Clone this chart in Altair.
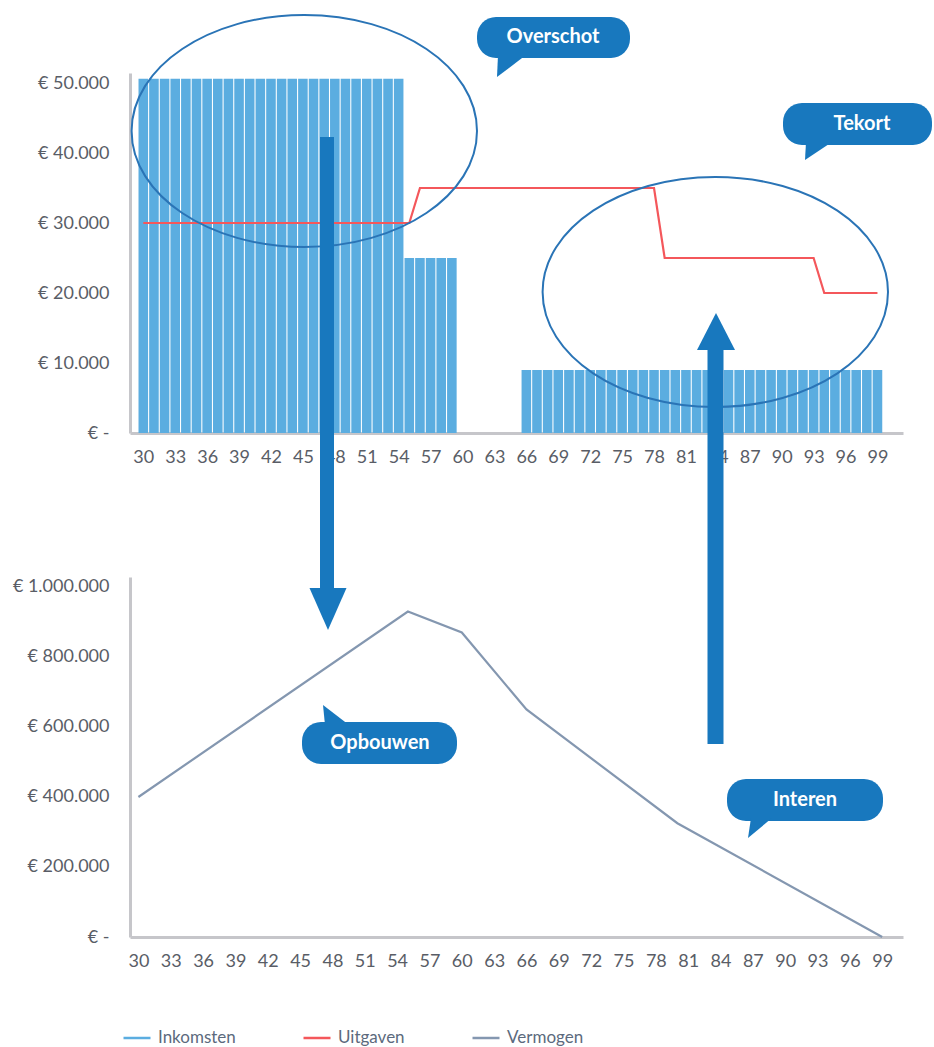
import json
import altair as alt
import pandas as pd

# ------------------------------------------------------------------ data
leeftijden = list(range(30, 100))  # leeftijd (categorie per jaar)

inkomsten = [
    50600, 50600, 50600, 50600, 50600, 50600, 50600, 50600, 50600, 50600,  # 30-39
    50600, 50600, 50600, 50600, 50600, 50600, 50600, 50600, 50600, 50600,  # 40-49
    50600, 50600, 50600, 50600, 50600, 25000, 25000, 25000, 25000, 25000,  # 50-59
    0, 0, 0, 0, 0, 0, 9000, 9000, 9000, 9000,                              # 60-69
    9000, 9000, 9000, 9000, 9000, 9000, 9000, 9000, 9000, 9000,            # 70-79
    9000, 9000, 9000, 9000, 9000, 9000, 9000, 9000, 9000, 9000,            # 80-89
    9000, 9000, 9000, 9000, 9000, 9000, 9000, 9000, 9000, 9000,            # 90-99
]

uitgaven = [
    30000, 30000, 30000, 30000, 30000, 30000, 30000, 30000, 30000, 30000,  # 30-39
    30000, 30000, 30000, 30000, 30000, 30000, 30000, 30000, 30000, 30000,  # 40-49
    30000, 30000, 30000, 30000, 30000, 30000, 35000, 35000, 35000, 35000,  # 50-59
    35000, 35000, 35000, 35000, 35000, 35000, 35000, 35000, 35000, 35000,  # 60-69
    35000, 35000, 35000, 35000, 35000, 35000, 35000, 35000, 35000, 25000,  # 70-79
    25000, 25000, 25000, 25000, 25000, 25000, 25000, 25000, 25000, 25000,  # 80-89
    25000, 25000, 25000, 25000, 20000, 20000, 20000, 20000, 20000, 20000,  # 90-99
]

vermogen_leeftijd = [30, 55, 60, 66, 80, 99]
vermogen = [400000, 930000, 870000, 650000, 325000, 0]

x_ticks = [30, 33, 36, 39, 42, 45, 48, 51, 54, 57, 60, 63, 66, 69, 72, 75, 78, 81, 84, 87, 90, 93, 96, 99]
ytop_ticks = [0, 10000, 20000, 30000, 40000, 50000]
ytop_labels = ["€ -", "€ 10.000", "€ 20.000", "€ 30.000", "€ 40.000", "€ 50.000"]
ybot_ticks = [0, 200000, 400000, 600000, 800000, 1000000]
ybot_labels = ["€ -", "€ 200.000", "€ 400.000", "€ 600.000", "€ 800.000", "€ 1.000.000"]
reeksen = ["Inkomsten", "Uitgaven", "Vermogen"]

# ------------------------------------------------------------------ styles
BAR = "#5BADE0"
RED = "#F4575B"
GREY = "#8497B0"
ELL = "#2A74B6"
DARK = "#1878BE"
AXIS_LINE = "#C6C6CA"
LABEL = "#595D66"
FONT = "Lato"

W, H = 773, 360
TOP_O = (130, 73)   # page position of the top plot area
BOT_O = (130, 577)  # page position of the bottom plot area

x_scale = alt.Scale(domain=[29.22, 100.93], nice=False, zero=False)
ytop_scale = alt.Scale(domain=[0, 51430], nice=False)
ybot_scale = alt.Scale(domain=[0, 1028570], nice=False)


def x_axis():
    return alt.Axis(values=x_ticks, format="d", title=None, grid=False, ticks=False,
                    domainColor=AXIS_LINE, domainWidth=3, labelFont=FONT, labelFontSize=18,
                    labelColor=LABEL, labelPadding=15, labelOverlap=False, labelFlush=False)


def y_axis(ticks, labels):
    expr = f"{json.dumps(labels, ensure_ascii=False)}[indexof({json.dumps(ticks)}, datum.value)]"
    return alt.Axis(values=ticks, labelExpr=expr, title=None, grid=False, ticks=False,
                    domainColor=AXIS_LINE, domainWidth=3, labelFont=FONT, labelFontSize=18,
                    labelColor=LABEL, labelPadding=21, labelOverlap=False, labelFlush=False)


color_scale = alt.Scale(domain=reeksen, range=[BAR, RED, GREY])
legend = alt.Legend(title=None, orient="none", legendX=-8, legendY=950, direction="horizontal",
                    symbolType="stroke", symbolSize=729, symbolStrokeWidth=2.5,
                    labelFont=FONT, labelFontSize=17, labelColor="#5C6A7D",
                    columnPadding=62, labelOffset=6)

# ------------------------------------------------------------------ data tables
bars_df = pd.DataFrame({"leeftijd": leeftijden, "bedrag": inkomsten})
uit_df = pd.DataFrame({"leeftijd": leeftijden, "bedrag": uitgaven, "reeks": "Uitgaven"})
verm_df = pd.DataFrame({"leeftijd": vermogen_leeftijd, "bedrag": vermogen, "reeks": "Vermogen"})

bars = alt.Chart(bars_df).transform_calculate(
    x0="datum.leeftijd - 0.45", x1="datum.leeftijd + 0.45"
).mark_bar(color=BAR, orient="vertical").encode(
    x=alt.X("x0:Q", scale=x_scale, axis=x_axis()),
    x2="x1:Q",
    y=alt.Y("bedrag:Q", scale=ytop_scale, axis=y_axis(ytop_ticks, ytop_labels)),
    y2=alt.datum(0),
)

uit_line = alt.Chart(uit_df).mark_line(strokeWidth=2.2).encode(
    x=alt.X("leeftijd:Q", scale=x_scale, axis=x_axis()),
    y=alt.Y("bedrag:Q", scale=ytop_scale, axis=y_axis(ytop_ticks, ytop_labels)),
    color=alt.Color("reeks:N", scale=color_scale, legend=legend),
)

verm_line = alt.Chart(verm_df).mark_line(strokeWidth=2.2).encode(
    x=alt.X("leeftijd:Q", scale=x_scale, axis=x_axis()),
    y=alt.Y("bedrag:Q", scale=ybot_scale, axis=y_axis(ybot_ticks, ybot_labels)),
    color=alt.Color("reeks:N", scale=color_scale, legend=legend),
)

# ------------------------------------------------------------------ annotations
ONE = alt.Data(values=[{}])


def rel(x, y, o):
    return x - o[0], y - o[1]


def ellipse(cx, cy, rx, ry, o):
    k = 0.5523
    px, py = rel(cx, cy, o)
    path = (f"M {-rx} 0 C {-rx} {-k*ry:.2f} {-k*rx:.2f} {-ry} 0 {-ry} "
            f"C {k*rx:.2f} {-ry} {rx} {-k*ry:.2f} {rx} 0 "
            f"C {rx} {k*ry:.2f} {k*rx:.2f} {ry} 0 {ry} "
            f"C {-k*rx:.2f} {ry} {-rx} {k*ry:.2f} {-rx} 0 Z")
    return alt.Chart(ONE).mark_point(shape=path, size=4, filled=False, color=ELL,
                                     strokeWidth=2, opacity=1).encode(
        x=alt.value(px), y=alt.value(py))


def shape(path, ax, ay, o, color=DARK):
    px, py = rel(ax, ay, o)
    return alt.Chart(ONE).mark_point(shape=path, size=4, filled=True, color=color,
                                     strokeWidth=0, opacity=1).encode(
        x=alt.value(px), y=alt.value(py))


def shaft(x, y1, y2, w, o):
    px, py1 = rel(x, y1, o)
    _, py2 = rel(x, y2, o)
    return alt.Chart(ONE).mark_rule(color=DARK, strokeWidth=w, strokeCap="butt").encode(
        x=alt.value(px), y=alt.value(py1), y2=alt.value(py2))


def bubble(x1, y1, x2, y2, text, tx, ty, tail_path, tail_x, tail_y, o):
    ax1, ay1 = rel(x1, y1, o)
    ax2, ay2 = rel(x2, y2, o)
    tpx, tpy = rel(tx, ty, o)
    body = alt.Chart(ONE).mark_rect(color=DARK, cornerRadius=19).encode(
        x=alt.value(ax1), x2=alt.value(ax2), y=alt.value(ay1), y2=alt.value(ay2))
    tail = shape(tail_path, tail_x, tail_y, o)
    label = alt.Chart(ONE).mark_text(text=text, font=FONT, fontSize=20, fontWeight="bold",
                                     color="white", align="center", baseline="middle").encode(
        x=alt.value(tpx), y=alt.value(tpy))
    return [body, tail, label]


top_ann = [
    ellipse(304.3, 131, 172.7, 116, TOP_O),
    ellipse(715.3, 292, 172.7, 115, TOP_O),
    shaft(327, 137, 591, 14, TOP_O),
    shape("M -18.5 -21 L 18.5 -21 L 0 21 Z", 328, 609, TOP_O),
    shaft(715.5, 348, 744, 16, TOP_O),
    shape("M -19 18.5 L 19 18.5 L 0 -18.5 Z", 716, 331.5, TOP_O),
]
top_ann += bubble(477, 17, 630, 58, "Overschot", 553, 37,
                  "M 0 0 L 1 -22 L 29 -22 Z", 497, 77, TOP_O)
top_ann += bubble(783, 103, 932, 145, "Tekort", 862, 124,
                  "M 0 0 L 1 -18 L 27 -18 Z", 805, 160, TOP_O)

bot_ann = []
bot_ann += bubble(302, 722, 457, 764, "Opbouwen", 380, 743,
                  "M 0 0 L 2 20 L 26 20 Z", 323, 705, BOT_O)
bot_ann += bubble(727, 779, 883, 821, "Interen", 805, 800,
                  "M 0 0 L 3 -20 L 24 -20 Z", 748, 838, BOT_O)

top = alt.layer(bars, uit_line, *top_ann).properties(width=W, height=H)
bottom = alt.layer(verm_line, *bot_ann).properties(width=W, height=H)

chart = alt.vconcat(top, bottom, spacing=144, bounds="flush").resolve_scale(
    color="shared"
).properties(
    padding={"left": 12, "top": 11, "right": 0, "bottom": 0}
).configure_view(strokeWidth=0)

chart.save("out.html", embed_options={"renderer": "svg", "actions": False})
